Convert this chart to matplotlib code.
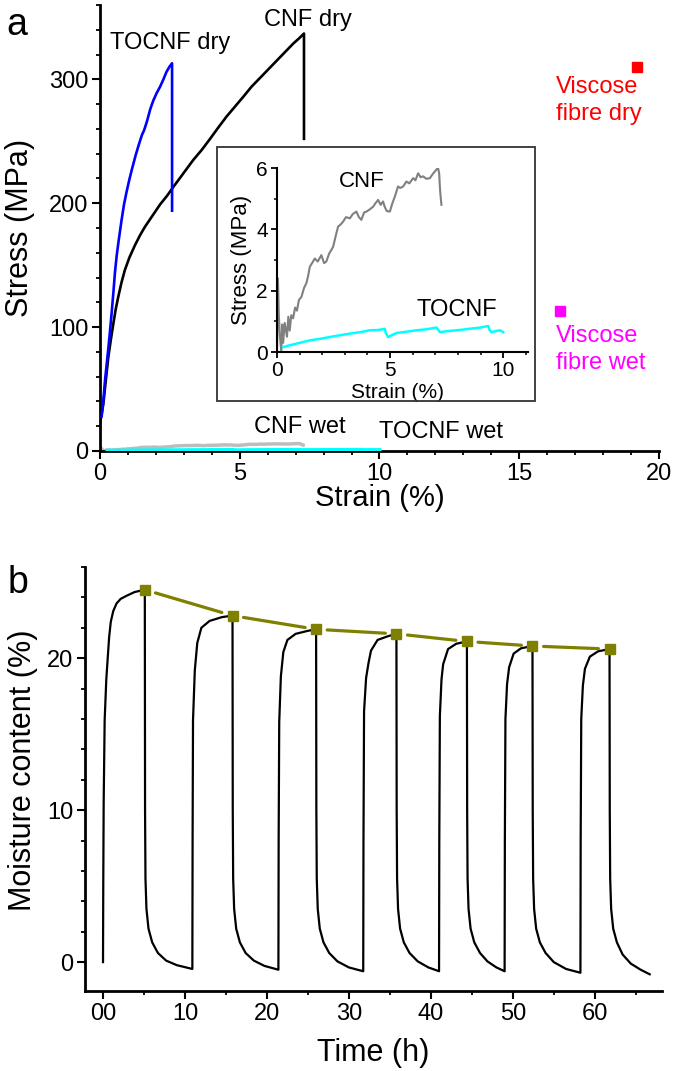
import numpy as np
import matplotlib
matplotlib.use('Agg')
import matplotlib.pyplot as plt
from matplotlib.ticker import MultipleLocator
from matplotlib.patches import Rectangle

plt.rcParams['font.family'] = ['Liberation Sans', 'DejaVu Sans']

# ---- panel a : tensile curves ----
tocnf_dry_strain = [0.06, 0.1, 0.14, 0.18, 0.24, 0.3, 0.36, 0.42, 0.48, 0.54, 0.6, 0.67, 0.77, 0.86, 0.95,
                    1.05, 1.15, 1.28, 1.4, 1.5, 1.58, 1.68, 1.8, 1.91, 2.03, 2.15, 2.27, 2.38, 2.48, 2.58, 2.58]
tocnf_dry_stress = [28, 36, 46, 57, 70, 83, 97, 112, 128, 145, 158, 170, 186, 199, 209,
                    219, 228, 239, 248, 255, 259, 266, 276, 283, 289, 294, 300, 306, 310, 313, 194]

cnf_dry_strain = [0.0, 0.06, 0.12, 0.2, 0.3, 0.39, 0.48, 0.56, 0.65, 0.77, 0.89, 1.05, 1.25, 1.43, 1.61,
                  1.88, 2.15, 2.4, 2.62, 2.98, 3.34, 3.64, 3.94, 4.23, 4.53, 4.83, 5.13, 5.42, 5.72,
                  6.02, 6.32, 6.62, 6.92, 7.12, 7.30, 7.30]
cnf_dry_stress = [22, 30, 38, 55, 76, 90, 103, 114, 124, 136, 146, 156, 166, 174, 181,
                  190, 199, 206, 213, 224, 235, 243, 252, 261, 270, 278, 286, 294, 301,
                  308, 315, 322, 329, 333, 337, 252]

# wet curves (also shown in the inset)
cnf_wet_strain = [0.0, 0.04, 0.08, 0.12, 0.19, 0.23, 0.27, 0.34, 0.44, 0.5, 0.56, 0.63, 0.71, 0.8, 0.88, 0.97,
                  1.08, 1.2, 1.3, 1.38, 1.45, 1.55, 1.67, 1.8, 1.96, 2.08, 2.18, 2.3, 2.48, 2.6, 2.7, 2.8,
                  2.92, 3.05, 3.22, 3.35, 3.51, 3.62, 3.73, 3.85, 3.95, 4.1, 4.25, 4.35, 4.47, 4.58, 4.69,
                  4.76, 4.85, 4.99, 5.1, 5.21, 5.35, 5.45, 5.58, 5.72, 5.85, 6.02, 6.12, 6.24, 6.35, 6.46,
                  6.6, 6.76, 6.88, 6.98, 7.05, 7.12, 7.17, 7.2, 7.23, 7.27]
cnf_wet_stress = [0.0, 2.4, 1.2, 0.6, 0.0, 0.9, 0.3, 0.95, 0.5, 1.15, 0.7, 1.2, 1.1, 1.45, 1.35, 1.7,
                  1.8, 2.1, 2.25, 2.5, 2.78, 2.9, 3.05, 2.95, 3.16, 2.9, 2.95, 3.2, 3.43, 3.8, 4.09, 4.15,
                  4.25, 4.4, 4.36, 4.5, 4.58, 4.4, 4.31, 4.55, 4.58, 4.65, 4.74, 4.85, 4.96, 4.8, 4.91,
                  4.74, 4.6, 4.58, 4.85, 5.07, 5.4, 5.35, 5.4, 5.56, 5.5, 5.67, 5.6, 5.83, 5.7, 5.73,
                  5.65, 5.67, 5.8, 5.89, 5.95, 6.0, 5.83, 5.4, 5.1, 4.8]

tocnf_wet_strain = [0.27, 0.56, 1.0, 1.45, 1.9, 2.33, 2.8, 3.22, 3.7, 4.1, 4.5, 4.76, 4.82, 4.91, 5.28,
                    5.7, 6.17, 6.6, 7.05, 7.1, 7.2, 7.64, 8.1, 8.53, 9.0, 9.34, 9.4, 9.48, 9.85, 10.0]
tocnf_wet_stress = [0.16, 0.22, 0.3, 0.38, 0.43, 0.49, 0.55, 0.6, 0.65, 0.71, 0.72, 0.76, 0.6, 0.49, 0.62,
                    0.66, 0.71, 0.74, 0.8, 0.75, 0.65, 0.69, 0.72, 0.76, 0.8, 0.85, 0.72, 0.65, 0.71, 0.65]

viscose_dry = (19.2, 310)
viscose_wet = (16.46, 113)

# ---- panel b : moisture cycling ----
time_h = [0, 0.03, 0.08, 0.2, 0.4, 0.61, 0.75, 0.95, 1.25, 1.65, 2.15, 2.85, 3.85, 4.65, 5.1,
          5.13, 5.18, 5.3, 5.55, 6.0, 6.7, 7.7, 9.0, 10.9,
          10.93, 10.98, 11.2, 11.5, 12.0, 13.0, 14.5, 15.8,
          15.83, 15.88, 16.0, 16.25, 16.7, 17.4, 18.4, 19.7, 21.4,
          21.43, 21.5, 21.7, 22.0, 22.5, 23.5, 25.0, 26.0,
          26.03, 26.08, 26.2, 26.45, 26.9, 27.6, 28.6, 30.0, 31.75,
          31.78, 31.85, 32.1, 32.4, 32.7, 33.5, 34.8, 35.8,
          35.83, 35.88, 36.0, 36.25, 36.7, 37.4, 38.4, 39.7, 41.0,
          41.03, 41.1, 41.3, 41.5, 42.1, 43.1, 44.4,
          44.43, 44.48, 44.6, 44.85, 45.3, 46.0, 46.9, 48.0, 49.0,
          49.03, 49.1, 49.3, 49.55, 50.1, 51.0, 52.4,
          52.43, 52.48, 52.6, 52.85, 53.3, 54.0, 55.0, 56.5, 58.25,
          58.28, 58.35, 58.55, 58.8, 59.4, 60.4, 61.8,
          61.83, 61.88, 62.0, 62.25, 62.7, 63.4, 64.4, 65.6, 66.7]
moisture = [0, 5, 10.5, 15.9, 18.6, 20.3, 21.4, 22.4, 23.1, 23.6, 23.9, 24.1, 24.35, 24.45, 24.5,
            10, 5.5, 3.5, 2.2, 1.3, 0.6, 0.1, -0.2, -0.45,
            8, 15.9, 19.2, 21.0, 22.0, 22.45, 22.7, 22.8,
            10, 5.5, 3.5, 2.2, 1.3, 0.6, 0.1, -0.25, -0.5,
            8, 15.8, 18.8, 20.4, 21.2, 21.6, 21.8, 21.9,
            10, 5.5, 3.5, 2.2, 1.3, 0.6, 0.05, -0.35, -0.6,
            8, 16.5, 18.7, 19.7, 20.5, 21.2, 21.45, 21.6,
            10, 5.5, 3.5, 2.2, 1.3, 0.6, 0.05, -0.35, -0.6,
            8, 16.2, 18.6, 19.6, 20.6, 20.95, 21.1,
            10, 5.5, 3.5, 2.2, 1.3, 0.6, 0.05, -0.35, -0.6,
            8, 16.0, 18.3, 19.4, 20.3, 20.65, 20.8,
            10, 5.5, 3.5, 2.2, 1.3, 0.6, 0.0, -0.45, -0.7,
            8, 16.0, 18.2, 19.3, 20.1, 20.45, 20.6,
            10, 5.5, 3.5, 2.2, 1.3, 0.5, -0.1, -0.5, -0.8]

peak_time = [5.1, 15.8, 26.0, 35.8, 44.4, 52.4, 61.8]
peak_moisture = [24.5, 22.8, 21.9, 21.6, 21.1, 20.8, 20.6]

olive = '#808000'


def style_axes(ax, lw=2.0, fs=17):
    ax.spines['top'].set_visible(False)
    ax.spines['right'].set_visible(False)
    ax.spines['left'].set_linewidth(lw)
    ax.spines['bottom'].set_linewidth(lw)
    ax.tick_params(which='major', direction='out', length=5.5, width=1.5, labelsize=fs, pad=3)
    ax.tick_params(which='minor', direction='out', length=3, width=1.3)


fig = plt.figure(figsize=(6.75, 10.71), dpi=100)

# ---------------- panel a ----------------
ax = fig.add_axes([0.1481, 0.5789, 0.8281, 0.4164])
ax.plot(cnf_wet_strain, cnf_wet_stress, color='#bdbdbd', lw=2.5, zorder=2)
ax.plot(tocnf_wet_strain, tocnf_wet_stress, color='#00ffff', lw=3, zorder=3)
ax.plot(cnf_dry_strain, cnf_dry_stress, color='black', lw=1.9, zorder=3)
ax.plot(tocnf_dry_strain, tocnf_dry_stress, color='#0000ff', lw=1.9, zorder=4)
ax.plot(*viscose_dry, 's', color='red', ms=7.5)
ax.plot(*viscose_wet, 's', color='#ff00ff', ms=7)

ax.set_xlim(0, 20)
ax.set_ylim(0, 360)
ax.set_xticks([0, 5, 10, 15, 20])
ax.set_yticks([0, 100, 200, 300])
ax.xaxis.set_minor_locator(MultipleLocator(1))
ax.yaxis.set_minor_locator(MultipleLocator(20))
style_axes(ax)
ax.set_xlabel('Strain (%)', fontsize=21)
ax.set_ylabel('Stress (MPa)', fontsize=22)
ax.xaxis.set_label_coords(0.5, -0.075)
ax.yaxis.set_label_coords(-0.117, 0.5)

ax.text(2.5, 329, 'TOCNF dry', fontsize=17, ha='center', va='center')
ax.text(7.44, 348, 'CNF dry', fontsize=17, ha='center', va='center')
ax.text(7.15, 19.5, 'CNF wet', fontsize=17, ha='center', va='center')
ax.text(12.2, 15, 'TOCNF wet', fontsize=17, ha='center', va='center')
ax.text(16.3, 283, 'Viscose\nfibre dry', fontsize=17, ha='left', va='center', color='red', linespacing=1.25)
ax.text(16.3, 82, 'Viscose\nfibre wet', fontsize=17, ha='left', va='center', color='#ff00ff', linespacing=1.25)

# inset frame + inset axes
fig.add_artist(Rectangle((0.3215, 0.6256), 0.4711, 0.2371, transform=fig.transFigure,
                         fill=False, edgecolor='#333333', lw=1.3))
axi = fig.add_axes([0.4104, 0.6713, 0.3719, 0.1718])
axi.plot(cnf_wet_strain, cnf_wet_stress, color='#808080', lw=1.5)
axi.plot(tocnf_wet_strain, tocnf_wet_stress, color='#00ffff', lw=1.8)
axi.set_xlim(0, 11.1)
axi.set_ylim(0, 6)
axi.set_xticks([0, 5, 10])
axi.set_yticks([0, 2, 4, 6])
axi.xaxis.set_minor_locator(MultipleLocator(1))
axi.yaxis.set_minor_locator(MultipleLocator(1))
style_axes(axi, lw=1.5, fs=15)
axi.tick_params(which='major', length=4.5, width=1.3, pad=2)
axi.tick_params(which='minor', length=2.5, width=1.1)
axi.set_xlabel('Strain (%)', fontsize=15)
axi.set_ylabel('Stress (MPa)', fontsize=16)
axi.xaxis.set_label_coords(0.48, -0.17)
axi.yaxis.set_label_coords(-0.1, 0.5)
axi.text(3.73, 5.56, 'CNF', fontsize=16, ha='center', va='center')
axi.text(7.93, 1.36, 'TOCNF', fontsize=17, ha='center', va='center')

fig.text(0.025, 0.977, 'a', fontsize=27, ha='center', va='center')

# ---------------- panel b ----------------
bx = fig.add_axes([0.1259, 0.0747, 0.8548, 0.3959])
bx.plot(time_h, moisture, color='black', lw=1.6, zorder=2)
for i in range(len(peak_time) - 1):
    bx.annotate('', xy=(peak_time[i + 1], peak_moisture[i + 1]),
                xytext=(peak_time[i], peak_moisture[i]),
                arrowprops=dict(arrowstyle='-', color=olive, lw=2.3, shrinkA=8, shrinkB=8))
bx.plot(peak_time, peak_moisture, 's', color=olive, ms=7.5, zorder=4)

bx.set_xlim(-2.2, 68.2)
bx.set_ylim(-1.9, 26)
bx.set_xticks([0, 10, 20, 30, 40, 50, 60])
bx.set_xticklabels(['00', '10', '20', '30', '40', '50', '60'])
bx.set_yticks([0, 10, 20])
bx.xaxis.set_minor_locator(MultipleLocator(5))
bx.yaxis.set_minor_locator(MultipleLocator(2))
style_axes(bx)
bx.set_xlabel('Time (h)', fontsize=22)
bx.set_ylabel('Moisture content (%)', fontsize=22)
bx.xaxis.set_label_coords(0.5, -0.11)
bx.yaxis.set_label_coords(-0.082, 0.52)

fig.text(0.027, 0.4557, 'b', fontsize=27, ha='center', va='center')

fig.savefig('out.png', dpi=100)
